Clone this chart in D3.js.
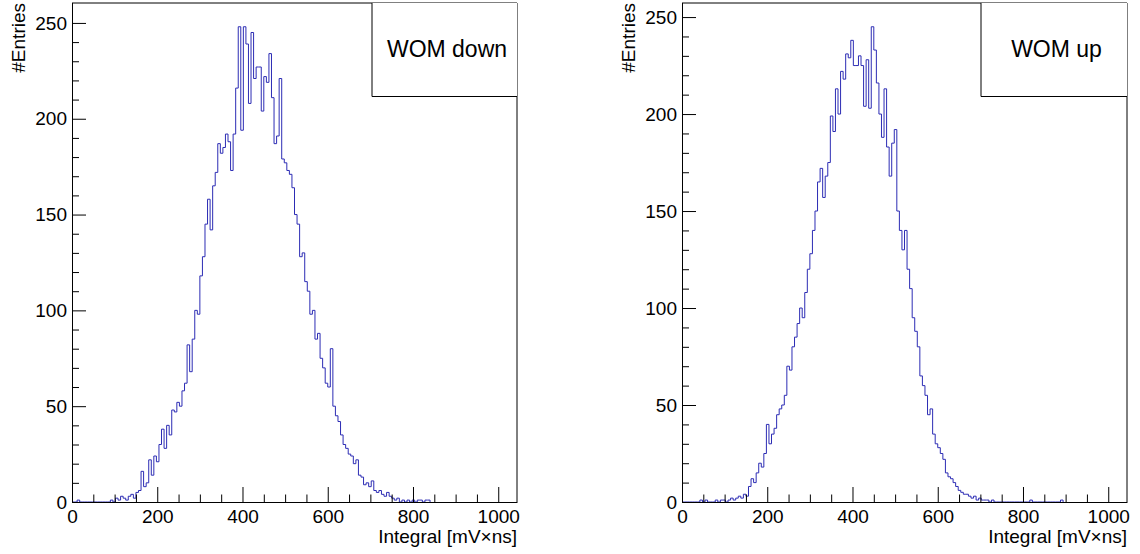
<!DOCTYPE html>
<html>
<head>
<meta charset="utf-8">
<script src="https://d3js.org/d3.v7.min.js"></script>
<style>
	body { margin:0; background:#fff; }
	text { font-family:"Liberation Sans", Arial, sans-serif; fill:#000; }
</style>
</head>
<body>
<svg id="chart" width="1140" height="554"></svg>
<script>

var binWidth = 6;
var xRange = [0, 1044];

var xMajorTicks = [0, 200, 400, 600, 800, 1000];
var yMajorTicks = [0, 50, 100, 150, 200, 250];

var xTitle = "Integral [mV\u00d7ns]";
var yTitle = "#Entries";

/**
 * Bin contents, bin i covers [i*binWidth, (i+1)*binWidth)
 */
var downCounts = [
	0, 0, 1, 0, 0, 0, 0, 0, 0, 0, 0, 0, 0, 0, 0, 1, 0, 2, 1, 3,
	2, 1, 3, 4, 2, 5, 6, 16, 8, 10, 22, 14, 24, 21, 30, 38, 28, 40, 35, 48,
	47, 52, 50, 58, 62, 82, 68, 85, 100, 98, 118, 128, 145, 158, 142, 165, 172, 187, 182, 185,
	192, 188, 173, 192, 216, 248, 194, 248, 239, 208, 245, 221, 227, 227, 204, 222, 219, 234, 211, 187,
	191, 221, 179, 177, 173, 171, 164, 150, 145, 128, 130, 115, 110, 98, 100, 85, 88, 75, 70, 62,
	60, 80, 50, 45, 42, 35, 30, 28, 25, 24, 20, 22, 14, 13, 9, 10, 8, 11, 6, 5,
	6, 4, 3, 5, 3, 2, 1, 2, 0, 1, 0, 1, 0, 1, 0, 1, 1, 0, 1, 1
];

var upCounts = [
	0, 0, 0, 0, 0, 0, 0, 1, 0, 1, 0, 0, 0, 1, 0, 1, 1, 0, 1, 2,
	1, 2, 3, 2, 4, 3, 8, 12, 10, 15, 20, 18, 25, 40, 30, 35, 38, 45, 48, 50,
	55, 70, 68, 80, 85, 92, 100, 95, 108, 120, 128, 140, 150, 165, 172, 157, 168, 175, 199, 191,
	213, 200, 222, 218, 231, 229, 238, 225, 225, 230, 225, 204, 228, 203, 245, 233, 216, 200, 188, 213,
	183, 168, 185, 192, 150, 140, 130, 140, 120, 110, 95, 88, 80, 65, 60, 55, 45, 48, 35, 30,
	28, 25, 22, 15, 13, 12, 10, 8, 6, 5, 4, 4, 3, 2, 3, 1, 2, 1, 1, 1,
	0, 1, 0, 0, 0, 0, 0, 0, 0, 0, 0, 0, 0, 0, 0, 0, 1, 0, 0, 0,
	0, 0, 0, 0, 0, 0, 0, 0, 1
];

var panels = [
	{ name:"WOM down", counts:downCounts, left:72, right:517, boxLeft:372, titleX:25 },
	{ name:"WOM up", counts:upCounts, left:682, right:1127, boxLeft:981, titleX:635 }
];

var frameTop = 3, frameBottom = 502, boxBottom = 96.5;

var svg = d3.select("#chart");

panels.forEach(function (p, idx) {
	var x = d3.scaleLinear().domain(xRange).range([p.left, p.right]);
	var y = d3.scaleLinear().domain([0, d3.max(p.counts) * 1.05]).range([frameBottom, frameTop]);

	var g = svg.append("g").attr("class", "pad");

	// histogram outline as a step line
	var pts = [[0, 0]];
	p.counts.forEach(function (c, i) { pts.push([i * binWidth, c]); });
	pts.push([p.counts.length * binWidth, 0]);

	g.append("path")
		.datum(pts)
		.attr("fill", "none")
		.attr("stroke", "#2c2cb4")
		.attr("stroke-width", 1)
		.attr("d", d3.line()
			.x(function (d) { return x(d[0]); })
			.y(function (d) { return y(d[1]); })
			.curve(d3.curveStepAfter));

	// top and right frame lines
	g.append("path")
		.attr("fill", "none")
		.attr("stroke", "#000")
		.attr("d", "M" + p.left + "," + frameTop + "H" + p.right + "V" + frameBottom);

	// minor ticks first, then major with labels
	var xMinor = d3.range(0, 1001, 50).filter(function (v) { return v % 200 !== 0; });
	var yMinor = d3.range(0, 251, 10).filter(function (v) { return v % 50 !== 0; });

	g.append("g")
		.attr("transform", "translate(0," + frameBottom + ")")
		.call(d3.axisBottom(x).tickValues(xMinor).tickSizeInner(-7.5).tickSizeOuter(0).tickFormat(""))
		.call(function (a) { a.select(".domain").remove(); });

	g.append("g")
		.attr("transform", "translate(0," + frameBottom + ")")
		.call(d3.axisBottom(x).tickValues(xMajorTicks).tickSizeInner(-15).tickSizeOuter(0).tickPadding(8)
			.tickFormat(d3.format("d")))
		.call(function (a) {
			a.selectAll("text").attr("font-size", "19px").attr("font-family", null);
			a.selectAll("line,path").attr("stroke", "#000");
		});

	g.append("g")
		.attr("transform", "translate(" + p.left + ",0)")
		.call(d3.axisLeft(y).tickValues(yMinor).tickSizeInner(-7).tickSizeOuter(0).tickFormat(""))
		.call(function (a) { a.select(".domain").remove(); });

	g.append("g")
		.attr("transform", "translate(" + p.left + ",0)")
		.call(d3.axisLeft(y).tickValues(yMajorTicks).tickSizeInner(-14).tickSizeOuter(0).tickPadding(5))
		.call(function (a) {
			a.selectAll("text").attr("font-size", "19px").attr("font-family", null);
			a.selectAll("line,path").attr("stroke", "#000");
			a.select(".domain").attr("d", "M0.5," + frameBottom + "V" + frameTop);
		});

	// axis titles
	g.append("text")
		.attr("x", p.right)
		.attr("y", 543)
		.attr("text-anchor", "end")
		.attr("font-size", "19px")
		.text(xTitle);

	g.append("text")
		.attr("transform", "translate(" + p.titleX + "," + frameTop + ") rotate(-90)")
		.attr("text-anchor", "end")
		.attr("font-size", "19px")
		.text(yTitle);

	// title box in the top right corner
	g.append("rect")
		.attr("x", p.boxLeft).attr("y", frameTop)
		.attr("width", p.right - p.boxLeft).attr("height", boxBottom - frameTop)
		.attr("fill", "#fff");
	g.append("path")
		.attr("fill", "none")
		.attr("stroke", "#000")
		.attr("d", "M" + p.boxLeft + "," + frameTop + "V" + boxBottom + "H" + p.right);
	g.append("text")
		.attr("x", (p.boxLeft + p.right) / 2 + 2.5)
		.attr("y", 57)
		.attr("text-anchor", "middle")
		.attr("font-size", "23px")
		.text(p.name);
});

</script>
</body>
</html>
